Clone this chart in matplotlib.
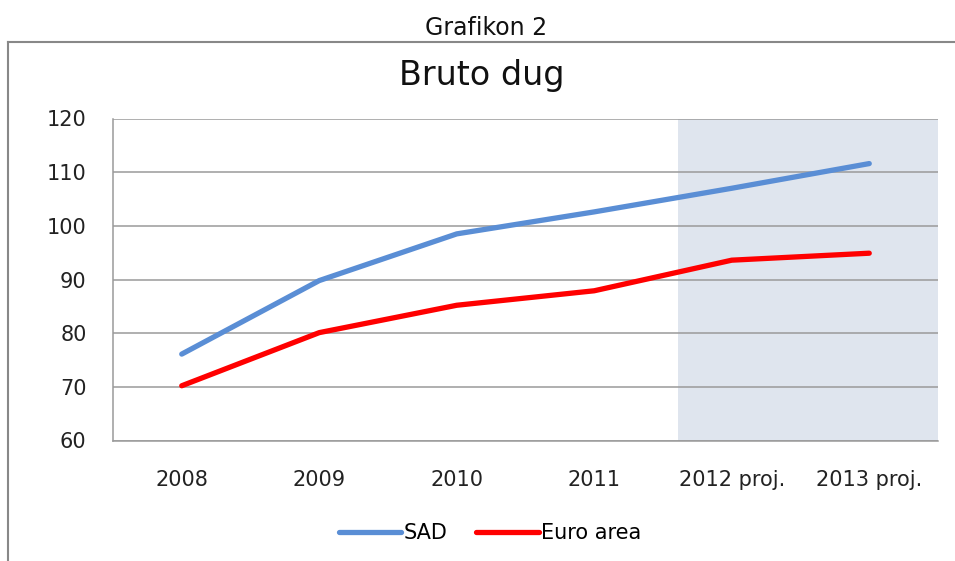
import matplotlib
matplotlib.use("Agg")
from matplotlib import pyplot as plt
from matplotlib.lines import Line2D

# data
years = ["2008", "2009", "2010", "2011", "2012 proj.", "2013 proj."]
sad = [76.1, 89.8, 98.5, 102.6, 107.0, 111.6]
euro = [70.2, 80.1, 85.2, 87.9, 93.6, 94.9]
y_ticks = [60, 70, 80, 90, 100, 110, 120]

fig = plt.figure(figsize=(9.55, 5.61), dpi=100)
ax = fig.add_axes([113 / 955, 1 - 440.5 / 561, 825 / 955, 322 / 561])

x = list(range(len(years)))

# projekcija - osjencano podrucje
ax.axvspan(3.61, 5.5, color="#dfe5ee", zorder=0, lw=0)

ax.plot(x, sad, color="#5a8ed5", lw=3.8, solid_capstyle="round", label="SAD", zorder=3)
ax.plot(x, euro, color="#ff0000", lw=3.8, solid_capstyle="round", label="Euro area", zorder=3)

ax.set_xlim(-0.5, 5.5)
ax.set_ylim(60, 120)
ax.set_yticks(y_ticks)
ax.set_xticks(x)
ax.set_xticklabels(years)
ax.yaxis.grid(True, color="#9a9a9a", lw=1.1)
ax.set_axisbelow(True)
ax.tick_params(length=0, labelsize=15, colors="#222222")
ax.tick_params(axis="x", pad=21)
ax.tick_params(axis="y", pad=19)
for s in ["top", "right"]:
    ax.spines[s].set_visible(False)
for s in ["left", "bottom"]:
    ax.spines[s].set_color("#9a9a9a")
    ax.spines[s].set_linewidth(1.1)

# naslovi
fig.text(486 / 955, 1 - 28 / 561, "Grafikon 2", ha="center", va="center", fontsize=17, color="#111111")
fig.text(482 / 955, 1 - 76 / 561, "Bruto dug", ha="center", va="center", fontsize=24, color="#111111")

# okvir
fig.add_artist(Line2D([8 / 955, 8 / 955], [0, 1 - 42 / 561], color="#888888", lw=1.5))
fig.add_artist(Line2D([8 / 955, 1], [1 - 42 / 561, 1 - 42 / 561], color="#888888", lw=1.5))

fig.legend(loc="center", bbox_to_anchor=(490 / 955, 1 - 533 / 561), ncol=2, frameon=False,
           fontsize=15, handlelength=3.0, handletextpad=0.1, columnspacing=1.4)

fig.savefig("out.png", dpi=100)
